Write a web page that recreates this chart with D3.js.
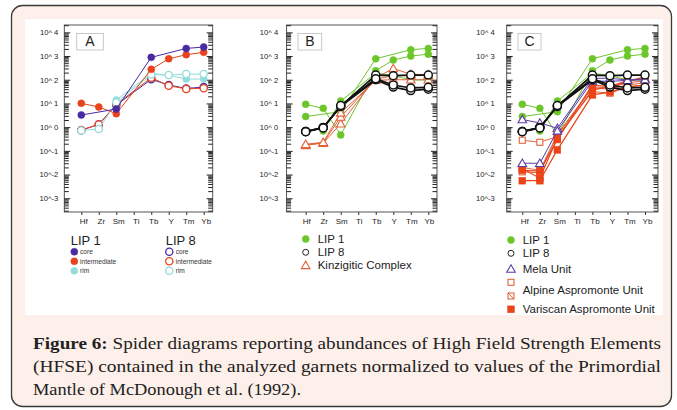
<!DOCTYPE html>
<html><head><meta charset="utf-8">
<script src="https://cdn.jsdelivr.net/npm/d3@7"></script>
<style>body{margin:0;background:#fff}svg{display:block}</style>
</head><body><svg id="c" width="677" height="410"></svg>
<script>
const elements = ["Hf","Zr","Sm","Ti","Tb","Y","Tm","Yb"];
const yTickExps = [4,3,2,1,0,-1,-2,-3];
const panelLetters = ["A","B","C"];

// Panel A
const lip1CoreA  = [3.25, null, 5.8, null, 880, null, 2100, 2400];
const lip1InterA = [10.1, 7.1, 3.7, null, 275, 770, 1135, 1430];
const lip1RimA   = [null, null, 14, null, 186, 155, 107, 107];
const lip8CoreA  = [0.74, 1.32, 8.6, null, 104, 60, 43, 49];
const lip8InterA = [0.76, 1.3, 9.2, null, 122, 56, 41, 44];
const lip8RimA   = [0.72, 0.84, 11, null, 165, 158, 174, 174];

// Panel B
const lip1B = [
  [9.2, 6.2, 0.47, null, 240, 680, 1000, 1200],
  [2.8, null, 4.5, null, 770, null, 1850, 2100],
  [null, 0.69, 12.6, null, 190, 150, 98, 98]];
const lip8B = [
  [0.65, 0.95, 7.8, null, 158, 148, 158, 158],
  [0.66, 0.97, 7.5, null, 100, 49, 35, 40],
  [0.64, 0.93, 8.2, null, 110, 60, 45, 48]];
const kinzB = [
  [0.18, 0.21, 1.4, null, 120, 300, 170, 165],
  [0.17, 0.22, 2.7, null, 105, 150, 150, 150],
  [0.19, 0.23, 4.0, null, 95, 100, 100, 100]];

// Panel C
const lip1C = [
  [9.2, 6.2, 0.47, null, 240, 680, 1000, 1200],
  [2.8, null, 4.5, null, 770, null, 1850, 2100],
  [null, 0.69, 12.6, null, 190, 150, 98, 98]];
const lip8C = [
  [0.65, 0.95, 7.8, null, 158, 148, 158, 158],
  [0.66, 0.97, 7.5, null, 100, 49, 35, 40],
  [0.64, 0.93, 8.2, null, 110, 60, 45, 48]];
const melaC = [
  [2.1, 1.5, 0.9, null, 115, 115, 98, 110],
  [0.03, 0.03, 0.7, null, 90, 85, 95, 100]];
const alpineOpenC = [
  [0.28, 0.23, 0.4, null, 32, 27, 50, 60],
  [0.013, 0.012, 0.45, null, 45, 40, 60, 75]];
const alpineCrossC = [
  [0.02, 0.015, 0.5, null, 50, 45, 75, 90]];
const variscanC = [
  [0.0055, 0.0055, 0.11, null, 23, 30, 50, 60],
  [0.018, 0.007, 0.35, null, 37, 50, 83, 135],
  [0.015, 0.014, 0.3, null, 60, 50, 95, 110]];

const captionLines = [
  ["Figure 6:", " Spider diagrams reporting abundances of High Field Strength Elements"],
  ["", "(HFSE) contained in the analyzed garnets normalized to values of the Primordial"],
  ["", "Mantle of McDonough et al. (1992)."]];

const C = {purple:"#4a2aa2", red:"#e8431c", cyan:"#93dcdc", green:"#6cc62a", black:"#111",
  orange:"#e2623c", mela:"#5b3ca6", alpine:"#e0663a", variscan:"#ea4418"};
const SANS = "'Liberation Sans', Arial, sans-serif";

const svg = d3.select("#c");
svg.append("rect").attr("x",11.5).attr("y",5.5).attr("width",660).attr("height",401).attr("rx",11)
  .attr("fill","#fdefe9").attr("stroke","#3a3a3a").attr("stroke-width",1.3);
svg.append("rect").attr("x",25).attr("y",19).attr("width",638).attr("height",296).attr("fill","#fff");

const Y0 = 212, Y1 = 25;
const y = d3.scaleLog().domain([Math.pow(10,-3.58), Math.pow(10,4.31)]).range([Y0, Y1]);
const majors = yTickExps.map(e => Math.pow(10, e));
const minors = [];
for (let k = -4; k <= 4; k++) for (let m = 2; m <= 9; m++) {
  const v = m * Math.pow(10, k);
  if (v >= y.domain()[0] && v <= y.domain()[1]) minors.push(v);
}

function drawMarker(g, shape, cx, cy, color, filled, big) {
  const fill = filled ? color : "#fff";
  if (shape === "circle") {
    g.append("circle").attr("cx",cx).attr("cy",cy).attr("r", big ? 4 : (filled ? 3.5 : 3.6))
      .attr("fill",fill).attr("stroke",color).attr("stroke-width", filled ? 0.5 : (big ? 1.5 : 1.3));
  } else if (shape === "triangle") {
    g.append("path").attr("d", d3.symbol(d3.symbolTriangle, 32)()).attr("transform",`translate(${cx},${cy+0.8})`)
      .attr("fill",fill).attr("stroke",color).attr("stroke-width",1.1);
  } else if (shape === "square" || shape === "xsquare") {
    const h = filled ? 3.4 : 3;
    g.append("rect").attr("x",cx-h).attr("y",cy-h).attr("width",2*h).attr("height",2*h)
      .attr("fill",fill).attr("stroke",color).attr("stroke-width",filled?0.5:1.1);
    if (shape === "xsquare") g.append("line").attr("x1",cx-h).attr("y1",cy-h).attr("x2",cx+h).attr("y2",cy+h)
      .attr("stroke",color).attr("stroke-width",1);
  }
}

function drawSeries(g, x, vals, st) {
  const pts = elements.map((e,i) => ({e, v: vals[i]})).filter(d => d.v != null);
  const line = d3.line().x(d => x(d.e)).y(d => y(d.v));
  g.append("path").datum(pts).attr("d", line).attr("fill","none")
    .attr("stroke", st.color).attr("stroke-width", st.lw || 1);
  pts.forEach(d => drawMarker(g, st.shape, x(d.e), y(d.v), st.color, st.filled, st.big));
}

function panel(cfg) {
  const g = svg.append("g");
  const x = d3.scalePoint().domain(elements).range([cfg.px0, cfg.px1]);
  g.append("rect").attr("x",cfg.fx0).attr("y",Y1).attr("width",cfg.fx1-cfg.fx0).attr("height",Y0-Y1)
    .attr("fill","none").attr("stroke","#444").attr("stroke-width",0.9);
  const la = g.append("g").attr("transform",`translate(${cfg.fx0},0)`)
    .call(d3.axisLeft(y).tickValues(majors).tickSize(-6).tickPadding(cfg.labOff)
      .tickFormat(v => { const e = Math.round(Math.log10(v)); return e >= 0 ? "10^ " + e : "10^" + e; }));
  la.select(".domain").remove();
  la.selectAll("text").attr("font-family",SANS).attr("font-size",7.6).attr("fill","#222");
  la.selectAll("line").attr("stroke","#222");
  const lm = g.append("g").attr("transform",`translate(${cfg.fx0},0)`)
    .call(d3.axisLeft(y).tickValues(minors).tickSize(-4.5).tickFormat(""));
  lm.select(".domain").remove(); lm.selectAll("line").attr("stroke","#222").attr("stroke-width",1);
  const ra = g.append("g").attr("transform",`translate(${cfg.fx1},0)`)
    .call(d3.axisRight(y).tickValues(majors).tickSize(-6).tickFormat(""));
  ra.select(".domain").remove(); ra.selectAll("line").attr("stroke","#222");
  const rm = g.append("g").attr("transform",`translate(${cfg.fx1},0)`)
    .call(d3.axisRight(y).tickValues(minors).tickSize(-4.5).tickFormat(""));
  rm.select(".domain").remove(); rm.selectAll("line").attr("stroke","#222").attr("stroke-width",1);
  const ba = g.append("g").attr("transform",`translate(0,${Y0})`)
    .call(d3.axisBottom(x).tickSize(3).tickSizeOuter(0).tickPadding(3));
  ba.select(".domain").remove();
  ba.selectAll("line").attr("stroke","#333");
  ba.selectAll("text").attr("font-family",SANS).attr("font-size",8).attr("fill","#222")
    .attr("dx", cfg.xlabShift);
  g.append("rect").attr("x",cfg.bx).attr("y",33.5).attr("width",cfg.bw).attr("height",16.5)
    .attr("fill","#fff").attr("stroke","#bbb").attr("stroke-width",0.8);
  g.append("text").attr("x",cfg.bx+cfg.bw/2).attr("y",46.3).attr("text-anchor","middle")
    .attr("font-family",SANS).attr("font-size",14).attr("fill","#222").text(cfg.letter);
  cfg.series.forEach(s => drawSeries(g, x, s.vals, s.st));
}

const sLip1Core = {color:C.purple, shape:"circle", filled:true};
const sLip1Inter = {color:C.red, shape:"circle", filled:true};
const sLip1Rim = {color:C.cyan, shape:"circle", filled:true};
const sLip8Core = {color:C.purple, shape:"circle", filled:false};
const sLip8Inter = {color:C.red, shape:"circle", filled:false};
const sLip8Rim = {color:C.cyan, shape:"circle", filled:false};
const sGreen = {color:C.green, shape:"circle", filled:true, lw:1};
const sBlack = {color:C.black, shape:"circle", filled:false, lw:1.7, big:true};
const sKinz = {color:C.orange, shape:"triangle", filled:false, lw:1};
const sMela = {color:C.mela, shape:"triangle", filled:false, lw:1};
const sAlp = {color:C.alpine, shape:"square", filled:false, lw:1};
const sAlpX = {color:C.alpine, shape:"xsquare", filled:false, lw:1};
const sVar = {color:C.variscan, shape:"square", filled:true, lw:1.2};

panel({letter:panelLetters[0], fx0:64.3, fx1:212.7, px0:81.3, px1:203.7, labOff:6, xlabShift:2, bx:76.7, bw:26.6,
  series:[
    {vals:lip8CoreA, st:sLip8Core}, {vals:lip8InterA, st:sLip8Inter},
    {vals:lip1RimA, st:sLip1Rim}, {vals:lip8RimA, st:sLip8Rim},
    {vals:lip1InterA, st:sLip1Inter}, {vals:lip1CoreA, st:sLip1Core}]});

panel({letter:panelLetters[1], fx0:286.6, fx1:437, px0:305.7, px1:428.3, labOff:8.4, xlabShift:0.5, bx:298, bw:23.7,
  series:[
    ...lip1B.map(v => ({vals:v, st:sGreen})),
    ...kinzB.map(v => ({vals:v, st:sKinz})),
    ...lip8B.map(v => ({vals:v, st:sBlack}))]});

panel({letter:panelLetters[2], fx0:506.7, fx1:658, px0:522.3, px1:645, labOff:12, xlabShift:2, bx:518, bw:23,
  series:[
    ...lip1C.map(v => ({vals:v, st:sGreen})),
    ...alpineOpenC.map(v => ({vals:v, st:sAlp})),
    ...alpineCrossC.map(v => ({vals:v, st:sAlpX})),
    ...variscanC.map(v => ({vals:v, st:sVar})),
    ...melaC.map(v => ({vals:v, st:sMela})),
    ...lip8C.map(v => ({vals:v, st:sBlack}))]});

// Legend A
const legA = svg.append("g").attr("font-family",SANS).attr("fill","#222");
[["LIP 1",70.7,74.3,80,true],["LIP 8",165.7,169.3,175.7,false]].forEach(([t,tx,cx,lx,filled]) => {
  legA.append("text").attr("x",tx).attr("y",245).attr("font-size",13).text(t);
  [["core",C.purple,251.7],["intermediate",C.red,261.3],["rim",C.cyan,270.8]].forEach(([lab,col,yy]) => {
    drawMarker(legA, "circle", cx, yy, col, filled);
    legA.append("text").attr("x",lx).attr("y",yy+2.3).attr("font-size",6.6).attr("fill","#333").text(lab);
  });
});

// Legend B
const legB = svg.append("g").attr("font-family",SANS);
[["LIP 1",sGreen,239],["LIP 8",{color:"#222",shape:"circle",filled:false},252.3],["Kinzigitic Complex",{color:C.orange,shape:"triangle",filled:false},265.3]]
  .forEach(([t,st,yy]) => {
    if (st.shape === "circle" && !st.filled) legB.append("circle").attr("cx",305.7).attr("cy",yy).attr("r",3).attr("fill","#fff").attr("stroke","#222").attr("stroke-width",1);
    else drawMarker(legB, st.shape, 305.7, yy, st.color, st.filled);
    legB.append("text").attr("x",317.7).attr("y",yy+4).attr("font-size",11.5).attr("fill","#222").text(t);
  });

// Legend C
const legC = svg.append("g").attr("font-family",SANS);
const lcx = 511, ltx = 522.7;
drawMarker(legC, "circle", lcx, 240, C.green, true);
legC.append("text").attr("x",ltx).attr("y",244).attr("font-size",11.5).attr("fill","#222").text("LIP 1");
legC.append("circle").attr("cx",lcx).attr("cy",253.3).attr("r",3).attr("fill","#fff").attr("stroke","#222").attr("stroke-width",1);
legC.append("text").attr("x",ltx).attr("y",257.3).attr("font-size",11.5).attr("fill","#222").text("LIP 8");
drawMarker(legC, "triangle", lcx, 269, C.mela, false);
legC.append("text").attr("x",ltx).attr("y",273).attr("font-size",11.5).attr("fill","#222").text("Mela Unit");
drawMarker(legC, "square", lcx, 282.3, C.alpine, false);
drawMarker(legC, "xsquare", lcx, 296, C.alpine, false);
legC.append("text").attr("x",ltx).attr("y",294).attr("font-size",11.5).attr("fill","#222").text("Alpine Aspromonte Unit");
drawMarker(legC, "square", lcx, 309.3, C.variscan, true);
legC.append("text").attr("x",ltx).attr("y",313.3).attr("font-size",11.5).attr("fill","#222").text("Variscan Aspromonte Unit");

// Caption
const cap = svg.append("g").attr("font-family","'Liberation Serif','DejaVu Serif',serif").attr("font-size",17.3).attr("fill","#222");
const capY = [349, 372, 395];
let scale = 1;
captionLines.forEach(([b, rest], i) => {
  const t = cap.append("text").attr("x",33).attr("y",capY[i]);
  if (b) t.append("tspan").attr("font-weight","bold").text(b);
  t.append("tspan").text(rest);
  const w = t.node().getComputedTextLength();
  if (i === 0) scale = 628 / w;
  if (i < 2) t.attr("textLength", 628).attr("lengthAdjust","spacingAndGlyphs");
  else t.attr("textLength", Math.min(w * scale, 268)).attr("lengthAdjust","spacingAndGlyphs");
});
</script></body></html>
